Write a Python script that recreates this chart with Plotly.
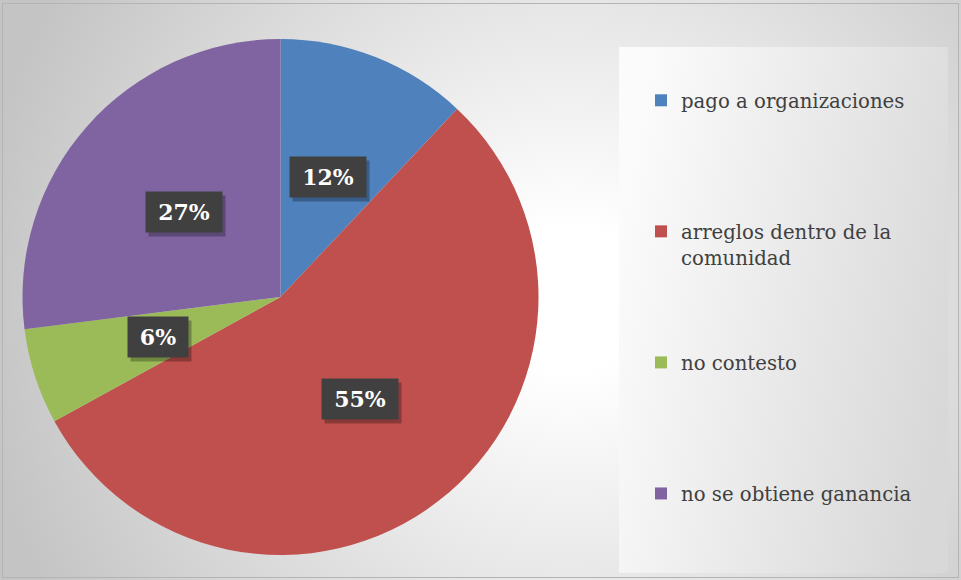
import base64, math
import plotly.graph_objects as go

categories = ["pago a organizaciones", "arreglos dentro de la<br>comunidad", "no contesto", "no se obtiene ganancia"]
values = [12, 55, 6, 27]
colors = ["#4F81BD", "#C0504D", "#9BBB59", "#8064A2"]

W, H = 961, 580

# background (chart area radial gradient + legend panel gradient)
svg = f'''<svg xmlns="http://www.w3.org/2000/svg" width="{W}" height="{H}" viewBox="0 0 {W} {H}">
<defs>
<radialGradient id="bg" gradientUnits="userSpaceOnUse" cx="570" cy="300" r="600">
<stop offset="0" stop-color="#ffffff"/><stop offset="0.12" stop-color="#ffffff"/>
<stop offset="1" stop-color="#c4c4c4"/></radialGradient>
<linearGradient id="lg" x1="0" y1="0.35" x2="1" y2="0.65">
<stop offset="0" stop-color="#fbfbfb"/><stop offset="1" stop-color="#d8d8d8"/></linearGradient>
</defs>
<rect x="0" y="0" width="{W}" height="{H}" fill="url(#bg)"/>
<rect x="619" y="47" width="329" height="526" fill="url(#lg)"/>
<rect x="2.5" y="3.5" width="956" height="574" fill="none" stroke="#b4b4b4" stroke-width="1"/>
</svg>'''
src = "data:image/svg+xml;base64," + base64.b64encode(svg.encode()).decode()

# pie domain
dx0, dx1 = 22 / W, 539 / W
dy0, dy1 = 1 - 555 / H, 1 - 39 / H

# legend labels padded to equal height (evenly distributed entries)
nlines = 5
legend_labels = []
for i, c in enumerate(categories):
    n = c.count("<br>") + 1
    pad = 0 if i == len(categories) - 1 else nlines - n
    legend_labels.append(c + "<br> " * pad)

fig = go.Figure(go.Pie(
    labels=legend_labels, values=values, sort=False, direction="clockwise", rotation=0,
    marker=dict(colors=colors, line=dict(width=0)), textinfo="none", hoverinfo="label+percent",
    domain=dict(x=[dx0, dx1], y=[dy0, dy1]),
))

# data labels at half radius along each slice's mid-angle
cx, cy = (dx0 + dx1) / 2, (dy0 + dy1) / 2
rpx = min(539 - 22, 555 - 39) / 2
total = sum(values)
cum = 0
annotations = []
for v in values:
    mid = (cum + v / 2) / total * 2 * math.pi
    cum += v
    x = cx + 0.5 * rpx * math.sin(mid) / W
    y = cy + 0.5 * rpx * math.cos(mid) / H
    txt = f"{round(v / total * 100)}%"
    w = 16 * len(txt) + 18
    common = dict(x=x, y=y, xref="paper", yref="paper", xanchor="center", yanchor="middle",
                  showarrow=False, width=w, height=30, borderpad=5)
    annotations.append(dict(common, xshift=3, yshift=-4, bgcolor="rgba(0,0,0,0.28)", text=" ",
                            font=dict(family="DejaVu Serif", size=22, color="rgba(0,0,0,0)")))
    annotations.append(dict(common, bgcolor="#404040", text=f"<b>{txt}</b>",
                            font=dict(family="DejaVu Serif", size=22, color="#ffffff")))

fig.update_layout(
    width=W, height=H, margin=dict(l=0, r=0, t=0, b=0),
    paper_bgcolor="#d0d0d0", plot_bgcolor="rgba(0,0,0,0)",
    images=[dict(source=src, xref="paper", yref="paper", x=0, y=1, sizex=1, sizey=1,
                 xanchor="left", yanchor="top", sizing="stretch", layer="below")],
    showlegend=True,
    legend=dict(x=641 / W, xanchor="left", y=1 - 81 / H, yanchor="top", valign="top",
                bgcolor="rgba(0,0,0,0)", font=dict(family="DejaVu Serif", size=19.7, color="#404040")),
    annotations=annotations,
)
fig.write_html("out.html", config={"displayModeBar": False},
               post_script="document.body.style.margin='0';document.body.style.overflow='hidden';")
